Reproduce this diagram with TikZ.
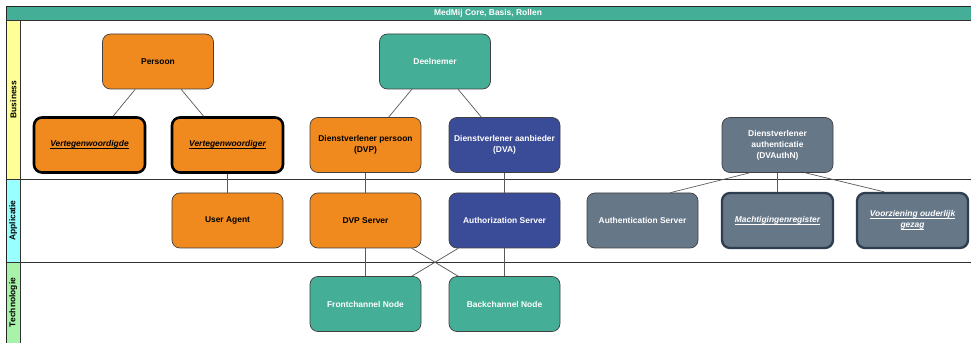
\documentclass[tikz,border=0pt]{standalone}
\usepackage{fontspec}
\setmainfont{Liberation Sans}
\usetikzlibrary{calc}
\usetikzlibrary{positioning}

\definecolor{mmorange}{HTML}{F08A1E}
\definecolor{mmteal}{HTML}{44AE96}
\definecolor{mmblue}{HTML}{3A4B98}
\definecolor{mmslate}{HTML}{667788}
\definecolor{mmslateline}{HTML}{2E3E50}
\definecolor{laneyellow}{HTML}{FFFF99}
\definecolor{lanecyan}{HTML}{99FFFF}
\definecolor{lanegreen}{HTML}{A9F2A9}

\newcommand{\mmref}[1]{\textit{\underline{\smash{#1}}\vphantom{#1}}}

\begin{document}
\begin{tikzpicture} [x=0.03cm, y=-0.03cm,
  box/.style={draw=black!75, line width=0.6pt, rounded corners=2.4mm, minimum width=3.33cm, minimum height=1.65cm, align=center, font=\fontsize{7.2}{9.4}\selectfont\bfseries},
  orangebox/.style={box, fill=mmorange, text=black},
  tealbox/.style={box, fill=mmteal, text=white},
  bluebox/.style={box, fill=mmblue, text=white},
  slatebox/.style={box, fill=mmslate, text=white},
  heavy/.style={line width=2.2pt, draw=black},
  heavyslate/.style={line width=2pt, draw=mmslateline},
  link/.style={draw=black!65, line width=0.6pt},
  lanelabel/.style={rotate=90, font=\fontsize{7.2}{9}\selectfont\bfseries}]
\useasboundingbox (0,0) rectangle (971,343);

% lanes
\fill[white] (6.5,6.5) rectangle (975,348);
\fill[laneyellow] (6.5,20) rectangle (20,179);
\fill[lanecyan] (6.5,179) rectangle (20,262);
\fill[lanegreen] (6.5,262) rectangle (20,348);
\draw[black!80, line width=0.6pt] (20,20) -- (20,348);
\draw[black!80, line width=0.6pt] (6.5,179) -- (975,179);
\draw[black!80, line width=0.6pt] (6.5,262) -- (975,262);
\node[lanelabel] (business) at (13.25,99.5) {Business};
\node[lanelabel] (applicatie) at (13.25,220.5) {Applicatie};
\node[lanelabel] (technologie) at (13.25,302.5) {Technologie};

% title bar
\fill[mmteal] (6.5,6.5) rectangle (975,20);
\draw[black!80, line width=0.6pt] (6.5,20) -- (975,20);
\node[text=white, font=\fontsize{7.2}{9}\selectfont\bfseries] (title) at (488,13.25) {MedMij Core, Basis, Rollen};
\draw[black!85, line width=0.8pt] (975,6.5) -- (6.5,6.5) -- (6.5,348);

% business
\node[orangebox] (persoon) at (158,61.5) {Persoon};
\node[orangebox, heavy] (vgde) at (89.5,145) {\mmref{Vertegenwoordigde}};
\node[orangebox, heavy] (vger) at (227.5,145) {\mmref{Vertegenwoordiger}};
\node[tealbox] (deelnemer) at (435,61.5) {Deelnemer};
\node[orangebox] (dvp) at (365.5,145) {Dienstverlener persoon\\(DVP)};
\node[bluebox] (dva) at (504.5,145) {Dienstverlener aanbieder\\(DVA)};
\node[slatebox] (dvauthn) at (777.5,145) {Dienstverlener\\authenticatie\\(DVAuthN)};

% applicatie
\node[orangebox] (useragent) at (227.5,220.5) {User Agent};
\node[orangebox] (dvpserver) at (365.5,220.5) {DVP Server};
\node[bluebox] (authz) at (504.5,220.5) {Authorization Server};
\node[slatebox] (authn) at (642.5,220.5) {Authentication Server};
\node[slatebox, heavyslate] (machtiging) at (777.5,220.5) {\mmref{Machtigingenregister}};
\node[slatebox, heavyslate] (voorziening) at (912.5,220.5) {\mmref{Voorziening ouderlijk}\\\mmref{gezag}};

% technologie
\node[tealbox] (front) at (365.5,304) {Frontchannel Node};
\node[tealbox] (back) at (504.5,304) {Backchannel Node};

% links
\draw[link] (persoon) -- (vgde);
\draw[link] (persoon) -- (vger);
\draw[link] (deelnemer) -- (dvp);
\draw[link] (deelnemer) -- (dva);
\draw[link] (vger) -- (useragent);
\draw[link] (dvp) -- (dvpserver);
\draw[link] (dva) -- (authz);
\draw[link] ($(dvauthn.south west)!.25!(dvauthn.south east)$) -- ($(authn.north west)!.75!(authn.north east)$);
\draw[link] (dvauthn) -- (machtiging);
\draw[link] ($(dvauthn.south west)!.75!(dvauthn.south east)$) -- ($(voorziening.north west)!.25!(voorziening.north east)$);
\draw[link] (dvpserver) -- (front);
\draw[link] (dvpserver) -- (back);
\draw[link] (authz) -- (front);
\draw[link] (authz) -- (back);
\end{tikzpicture}
\end{document}
